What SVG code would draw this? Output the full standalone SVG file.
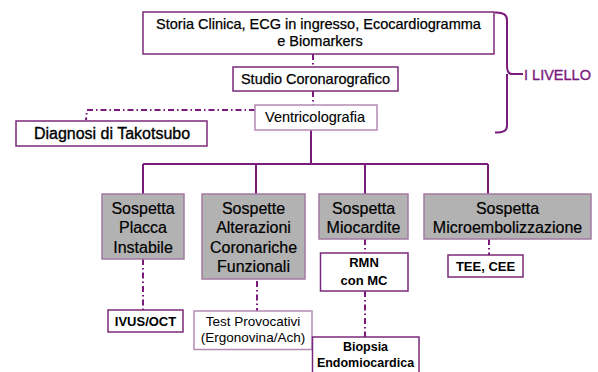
<svg xmlns="http://www.w3.org/2000/svg" width="598" height="372" viewBox="0 0 598 372">
<style>
text{font-family:"Liberation Sans",Arial,sans-serif;fill:#000;text-anchor:middle}
.box{fill:#fff;stroke:#7b2a7b;stroke-width:1.5}
.lbox{fill:#fff;stroke:#b48cb4;stroke-width:1.5}
.gbox{fill:#b2b2b2;stroke:#a27aa2;stroke-width:1.5}
.ln{fill:none;stroke:#7a1a7a;stroke-width:2}
.dd{fill:none;stroke:#7a1a7a;stroke-width:2;stroke-dasharray:6 3 1.5 3}
.t145{font-size:14.5px;stroke:#000;stroke-width:0.25}
.t16{font-size:16px;stroke:#000;stroke-width:0.2}
.b13{font-size:13px;font-weight:bold}
</style>
<rect width="598" height="372" fill="#fff"/>
<g id="connectors">
<path class="dd" d="M313 54V67M313 91V105"/>
<path class="dd" d="M255 110H87L86 120"/>
<path class="ln" d="M311 130V164M143 164H488M143 164V194M256 164V194M365 164V194M488 164V194"/>
<path class="dd" d="M143 259V310M257 281V311M365 239V253M365 291V337M489 239V255"/>
<path class="ln" d="M495 12.5Q507 12 507 20V66Q507 74 512 74H523M507 74Q507 74 507 82V126Q507 133 495 132.5"/>
</g>
<g id="top"><rect class="box" x="143" y="12" width="351" height="42"/><text class="t145" x="318.5" y="28.5">Storia Clinica, ECG in ingresso, Ecocardiogramma</text><text class="t145" x="320" y="46">e Biomarkers</text></g>
<g id="studio"><rect class="box" x="233" y="67" width="165" height="24"/><text class="t145" x="315.5" y="84">Studio Coronarografico</text></g>
<g id="ventri"><rect class="lbox" x="255" y="105" width="122" height="25"/><text class="t145" x="315" y="121.5" style="stroke-width:0.1">Ventricolografia</text></g>
<g id="diagnosi"><rect class="box" x="16" y="121" width="191" height="25"/><text class="t16" x="112" y="138.5" style="stroke-width:0.35">Diagnosi di Takotsubo</text></g>
<g id="livello"><text class="t145" x="557.5" y="80" style="fill:#7a1a7a;stroke:#7a1a7a;stroke-width:0.35">I LIVELLO</text></g>
<g id="placca"><rect class="gbox" x="102" y="194" width="82" height="65"/><text class="t16" x="143" y="213.5">Sospetta</text><text class="t16" x="143" y="233">Placca</text><text class="t16" x="143" y="252.5">Instabile</text></g>
<g id="alterazioni"><rect class="gbox" x="202" y="194" width="103" height="85"/><text class="t16" x="253.5" y="213.5">Sospette</text><text class="t16" x="253.5" y="233">Alterazioni</text><text class="t16" x="253.5" y="252.5">Coronariche</text><text class="t16" x="253.5" y="272">Funzionali</text></g>
<g id="miocardite"><rect class="gbox" x="319" y="194" width="89" height="45"/><text class="t16" x="363.5" y="213.5">Sospetta</text><text class="t16" x="363.5" y="233">Miocardite</text></g>
<g id="microemb"><rect class="gbox" x="424" y="194" width="167" height="45"/><text class="t16" x="507.5" y="213.5">Sospetta</text><text class="t16" x="507.5" y="233">Microembolizzazione</text></g>
<g id="ivus"><rect class="box" x="108" y="310" width="75" height="22"/><text class="b13" x="145.5" y="325.5">IVUS/OCT</text></g>
<g id="test"><rect class="lbox" x="194" y="311" width="118" height="38.5"/><text x="253" y="326" style="font-size:13.5px">Test Provocativi</text><text x="253" y="341.5" style="font-size:13.5px">(Ergonovina/Ach)</text></g>
<g id="rmn"><rect class="box" x="320.5" y="253" width="87.5" height="38"/><text class="b13" x="364" y="267">RMN</text><text class="b13" x="364" y="284.5">con MC</text></g>
<g id="biopsia"><rect class="box" x="312.5" y="337" width="106.5" height="40"/><text x="365.5" y="351" style="font-size:12.5px;font-weight:bold">Biopsia</text><text x="365.5" y="367" style="font-size:12.5px;font-weight:bold">Endomiocardica</text></g>
<g id="tee"><rect class="box" x="448" y="255" width="75" height="22"/><text class="b13" x="485.5" y="270.5">TEE, CEE</text></g>
</svg>
